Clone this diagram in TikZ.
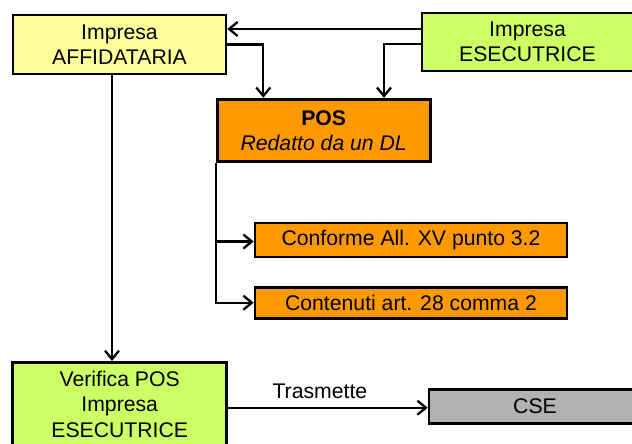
\documentclass[tikz,border=0pt]{standalone}
\usepackage{fontspec}
\setmainfont{Liberation Sans}
\usetikzlibrary{arrows.meta}
\definecolor{giallo}{HTML}{FFFF99}
\definecolor{verde}{HTML}{CCFF66}
\definecolor{arancio}{HTML}{FF9900}
\definecolor{grigio}{HTML}{B2B2B2}
\begin{document}
\begin{tikzpicture}[x=1pt,y=-1pt]
            \tikzset{
                box/.style={draw,line width=2.6pt,align=center,inner sep=0pt,
                    font=\fontsize{21.2}{25.5}\selectfont},
                arr/.style={line width=2.3pt,-{Straight Barb[length=8.5pt,width=14pt]}},}
            \useasboundingbox (0,0) rectangle (632,444);
            \clip (0,0) rectangle (632,444);
            \node [box,fill=giallo,minimum width=213pt,minimum height=59pt] (affid) at (119.5,44.5) {Impresa\\AFFIDATARIA};
            \node [box,fill=verde,minimum width=211pt,minimum height=58pt] (esec) at (527.5,42) {Impresa\\ESECUTRICE};
            \node [box,fill=arancio,line width=3.4pt,minimum width=213pt,minimum height=62pt] (pos) at (323.7,130.5) {\textbf{POS}\\\textit{Redatto da un DL}};
            \node [box,fill=arancio,minimum width=312pt,minimum height=34pt] (conf) at (411,240) {Conforme All. XV punto 3.2};
            \node [box,fill=arancio,minimum width=312pt,minimum height=31pt] (cont) at (411,302.7) {Contenuti art. 28 comma 2};
            \node [box,fill=verde,minimum width=214pt,minimum height=84pt] (verif) at (119.7,404.3) {Verifica POS\\Impresa\\ESECUTRICE};
            \node [box,fill=grigio,minimum width=212pt,minimum height=34pt] (cse) at (535,406.2) {CSE};
            % collegamenti
            \draw [arr] ([yshift=13pt]esec.west) -- ([yshift=13pt]esec.west -| affid.east);
            \draw [arr] (affid.east) -| ([xshift=-60.4pt]pos.north);
            \draw [arr] ([yshift=-2pt]esec.west) -| ([xshift=60.3pt]pos.north);
            \draw [arr] ([xshift=-7.5pt]affid.south) -- ([xshift=-7.5pt]affid.south |- verif.north);
            \draw [arr] ([xshift=0.8pt]pos.south west) |- ([yshift=-1.5pt]conf.west);
            \draw [arr] ([xshift=0.8pt]pos.south west) |- (cont.west);
            \draw [arr] ([yshift=-1.5pt]verif.east |- cse.west) -- ([yshift=-1.5pt]cse.west)
                node [pos=0.46,anchor=base,yshift=9pt,font=\fontsize{21.2}{25.5}\selectfont] (tras) {Trasmette};
        \end{tikzpicture}
\end{document}
